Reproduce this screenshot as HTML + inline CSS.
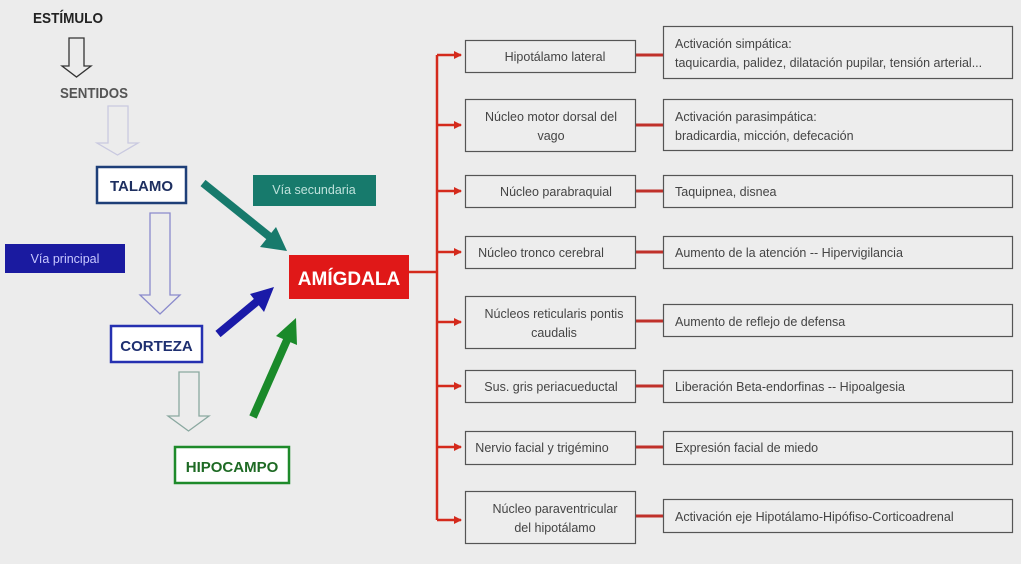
<!DOCTYPE html>
<html><head><meta charset="utf-8"><style>
html,body{margin:0;padding:0;background:#fff}
svg{display:block}
text{font-family:"Liberation Sans",sans-serif}
.t{font-size:12.5px;fill:#444}
</style></head><body>
<svg width="1024" height="568" viewBox="0 0 1024 568" xmlns="http://www.w3.org/2000/svg">
<rect x="0" y="0" width="1021" height="564" fill="#ececec"/>
<defs>
<marker id="ra" markerWidth="8" markerHeight="8" refX="7" refY="4" orient="auto" markerUnits="userSpaceOnUse"><path d="M0,0 L8,4 L0,8 z" fill="#d42a1c"/></marker>
</defs>
<text x="33" y="23" font-size="15" font-weight="bold" fill="#222" textLength="70" lengthAdjust="spacingAndGlyphs">ESTÍMULO</text>
<path d="M69,38 H84 V66 H91 L76.5,77 L62,66 H69 Z" fill="none" stroke="#333" stroke-width="1.3"/>
<text x="60" y="98" font-size="15" font-weight="bold" fill="#555" textLength="68" lengthAdjust="spacingAndGlyphs">SENTIDOS</text>
<path d="M108,106 H128 V143 H138 L117.5,155 L97,143 H108 Z" fill="none" stroke="#c9c9e0" stroke-width="1.3"/>
<rect x="97" y="167" width="89" height="36" fill="#fff" stroke="#1e3f78" stroke-width="2.5"/>
<text x="141.5" y="191" font-size="15" font-weight="bold" fill="#1e2f60" text-anchor="middle">TALAMO</text>
<rect x="5" y="244" width="120" height="29" fill="#1a1aa0"/>
<text x="65" y="263" font-size="12.5" fill="#c8c8ff" text-anchor="middle">Vía principal</text>
<rect x="253" y="175" width="123" height="31" fill="#177a6c"/>
<text x="314" y="194" font-size="12.5" fill="#bfe2dc" text-anchor="middle">Vía secundaria</text>
<path d="M150,213 H170 V295 H180 L160,314 L140,295 H150 Z" fill="none" stroke="#8a8acc" stroke-width="1.3"/>
<rect x="111" y="326" width="91" height="36" fill="#fff" stroke="#2530b0" stroke-width="2.5"/>
<text x="156.5" y="351" font-size="15" font-weight="bold" fill="#1e2f70" text-anchor="middle">CORTEZA</text>
<path d="M179,372 H199 V416 H209 L188.5,431 L168,416 H179 Z" fill="none" stroke="#8aa8a0" stroke-width="1.3"/>
<rect x="175" y="447" width="114" height="36" fill="#fff" stroke="#1e8a2a" stroke-width="2.5"/>
<text x="232" y="472" font-size="15" font-weight="bold" fill="#1e6a24" text-anchor="middle">HIPOCAMPO</text>
<line x1="203" y1="183" x2="270" y2="237" stroke="#177a6c" stroke-width="8"/>
<polygon points="287,251 260,247 276,227" fill="#177a6c"/>
<line x1="218" y1="334" x2="260" y2="299" stroke="#1a1aa8" stroke-width="8"/>
<polygon points="274,287 264,312 250,294" fill="#1a1aa8"/>
<line x1="253" y1="417" x2="287" y2="340" stroke="#1a8a2a" stroke-width="8"/>
<polygon points="296,318 297,345 276,336" fill="#1a8a2a"/>
<rect x="289" y="255" width="120" height="44" fill="#e01818"/>
<text x="349" y="285" font-size="19" font-weight="bold" fill="#fff" text-anchor="middle">AMÍGDALA</text>
<g stroke="#d42a1c" stroke-width="2.5" fill="none">
<line x1="409" y1="272" x2="437" y2="272"/>
<line x1="437" y1="55" x2="437" y2="520"/>
</g>
<g stroke="#d42a1c" stroke-width="2.5" marker-end="url(#ra)">
<line x1="437" y1="55" x2="461" y2="55"/>
<line x1="437" y1="125" x2="461" y2="125"/>
<line x1="437" y1="191" x2="461" y2="191"/>
<line x1="437" y1="252" x2="461" y2="252"/>
<line x1="437" y1="322" x2="461" y2="322"/>
<line x1="437" y1="386" x2="461" y2="386"/>
<line x1="437" y1="447" x2="461" y2="447"/>
<line x1="437" y1="520" x2="461" y2="520"/>
</g>
<g stroke="#c0302a" stroke-width="3">
<line x1="636" y1="55" x2="663" y2="55"/>
<line x1="636" y1="125" x2="663" y2="125"/>
<line x1="636" y1="191" x2="663" y2="191"/>
<line x1="636" y1="252" x2="663" y2="252"/>
<line x1="636" y1="321" x2="663" y2="321"/>
<line x1="636" y1="386" x2="663" y2="386"/>
<line x1="636" y1="447" x2="663" y2="447"/>
<line x1="636" y1="516" x2="663" y2="516"/>
</g>
<g fill="#ededed" stroke="#555" stroke-width="1.2">
<rect x="465.5" y="40.5" width="170" height="32"/>
<rect x="465.5" y="99.5" width="170" height="52"/>
<rect x="465.5" y="175.5" width="170" height="32"/>
<rect x="465.5" y="236.5" width="170" height="32"/>
<rect x="465.5" y="296.5" width="170" height="52"/>
<rect x="465.5" y="370.5" width="170" height="32"/>
<rect x="465.5" y="431.5" width="170" height="33"/>
<rect x="465.5" y="491.5" width="170" height="52"/>
<rect x="663.5" y="26.5" width="349" height="52"/>
<rect x="663.5" y="99.5" width="349" height="51"/>
<rect x="663.5" y="175.5" width="349" height="32"/>
<rect x="663.5" y="236.5" width="349" height="32"/>
<rect x="663.5" y="304.5" width="349" height="32"/>
<rect x="663.5" y="370.5" width="349" height="32"/>
<rect x="663.5" y="431.5" width="349" height="33"/>
<rect x="663.5" y="499.5" width="349" height="33"/>
</g>
<g class="t" text-anchor="middle">
<text x="555" y="61">Hipotálamo lateral</text>
<text x="551" y="121">Núcleo motor dorsal del</text>
<text x="551" y="140">vago</text>
<text x="556" y="196">Núcleo parabraquial</text>
<text x="541" y="257">Núcleo tronco cerebral</text>
<text x="554" y="318">Núcleos reticularis pontis</text>
<text x="554" y="337">caudalis</text>
<text x="551" y="391">Sus. gris periacueductal</text>
<text x="542" y="452">Nervio facial y trigémino</text>
<text x="555" y="513">Núcleo paraventricular</text>
<text x="555" y="532">del hipotálamo</text>
</g>
<g class="t">
<text x="675" y="48">Activación simpática:</text>
<text x="675" y="67">taquicardia, palidez, dilatación pupilar, tensión arterial...</text>
<text x="675" y="121">Activación parasimpática:</text>
<text x="675" y="140">bradicardia, micción, defecación</text>
<text x="675" y="196">Taquipnea, disnea</text>
<text x="675" y="257">Aumento de la atención -- Hipervigilancia</text>
<text x="675" y="326">Aumento de reflejo de defensa</text>
<text x="675" y="391">Liberación Beta-endorfinas -- Hipoalgesia</text>
<text x="675" y="452">Expresión facial de miedo</text>
<text x="675" y="521">Activación eje Hipotálamo-Hipófiso-Corticoadrenal</text>
</g>
</svg>
</body></html>
